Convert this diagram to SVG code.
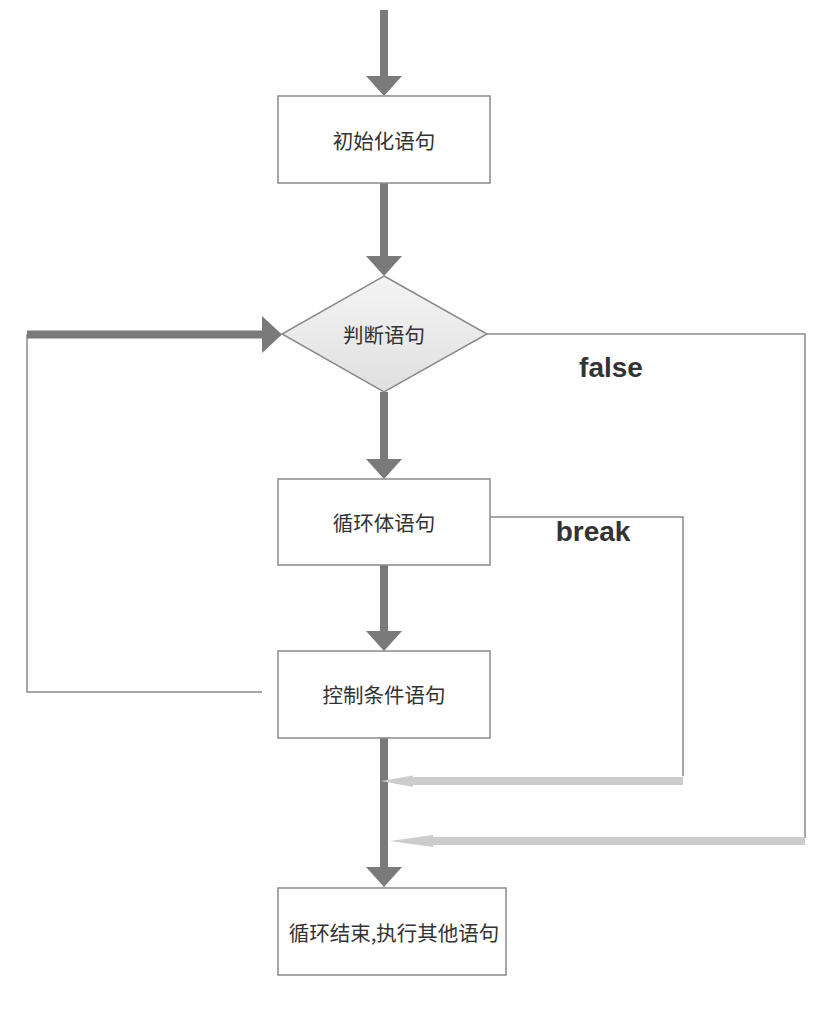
<svg xmlns="http://www.w3.org/2000/svg" width="824" height="1018" viewBox="0 0 824 1018">
<defs>
<linearGradient id="dg" x1="0" y1="0" x2="0" y2="1">
<stop offset="0" stop-color="#f4f4f4"/>
<stop offset="1" stop-color="#e0e0e0"/>
</linearGradient>
<style>
.box{fill:#fff;stroke:#8a8a8a;stroke-width:1.5}
.lbl{font-family:"Noto Sans CJK SC","Noto Sans",sans-serif;font-size:20.5px;fill:#333;text-anchor:middle;dominant-baseline:central}
.edge{font-family:"Liberation Sans",Arial,sans-serif;font-size:28px;font-weight:bold;fill:#333;text-anchor:middle}
.thick{stroke:#7a7a7a;stroke-width:8;fill:none}
.thin{stroke:#8a8a8a;stroke-width:1.5;fill:none}
.light{stroke:#cccccc;stroke-width:8;fill:none}
.head{fill:#7a7a7a}
.lhead{fill:#cccccc}
</style>
</defs>
<g id="connectors">
<line class="thick" x1="384" y1="10" x2="384" y2="78"/>
<polygon class="head" points="366,76 402,76 384,96"/>
<line class="thick" x1="384" y1="183" x2="384" y2="258"/>
<polygon class="head" points="366,256 402,256 384,276"/>
<line class="thick" x1="384" y1="392" x2="384" y2="461"/>
<polygon class="head" points="366,459 402,459 384,479"/>
<line class="thick" x1="384" y1="565" x2="384" y2="633"/>
<polygon class="head" points="366,631 402,631 384,651"/>
<line class="thick" x1="384" y1="738" x2="384" y2="869"/>
<polygon class="head" points="366,867 402,867 384,887"/>
<polyline class="thin" points="262,692 27,692 27,334"/>
<line class="thick" x1="27" y1="334.5" x2="264" y2="334.5"/>
<polygon class="head" points="262,316 262,353 282,334.5"/>
<polyline class="thin" points="487,334 805,334 805,838"/>
<line class="light" x1="805" y1="841" x2="430" y2="841"/>
<polygon class="lhead" points="433,835 433,847 390,841"/>
<polyline class="thin" points="490,517 683,517 683,776"/>
<line class="light" x1="683" y1="781" x2="410" y2="781"/>
<polygon class="lhead" points="413,775.5 413,787 381,781"/>
<text class="edge" x="611" y="377">false</text>
<text class="edge" x="593" y="541">break</text>
</g>
<g id="init"><rect class="box" x="278" y="96" width="212" height="87"/><text class="lbl" x="384" y="140">初始化语句</text></g>
<g id="cond"><polygon points="384,276 487,334 384,392 282,334" fill="url(#dg)" stroke="#8a8a8a" stroke-width="1.5"/><text class="lbl" x="384" y="334">判断语句</text></g>
<g id="body"><rect class="box" x="278" y="479" width="212" height="86"/><text class="lbl" x="384" y="522">循环体语句</text></g>
<g id="ctrl"><rect class="box" x="278" y="651" width="212" height="87"/><text class="lbl" x="384" y="694">控制条件语句</text></g>
<g id="end"><rect class="box" x="278" y="888" width="228" height="87"/><text class="lbl" x="394" y="932">循环结束,执行其他语句</text></g>
</svg>
